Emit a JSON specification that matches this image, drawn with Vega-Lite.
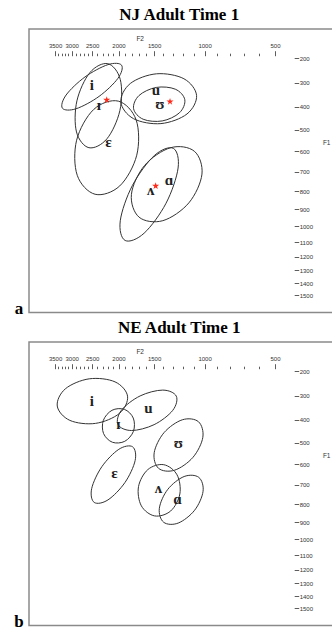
{
  "$schema": "https://vega.github.io/schema/vega-lite/v6.json",
  "padding": {"left": 12, "top": 5, "right": 0, "bottom": 0},
  "spacing": 0,
  "config": {
    "view": {"stroke": "#8a8a8a", "strokeWidth": 1.5},
    "axis": {"labelFont": "'Liberation Sans Narrow', 'Liberation Sans', sans-serif", "titleFont": "'Liberation Sans Narrow', 'Liberation Sans', sans-serif"},
    "title": {"font": "'Liberation Serif', serif", "fontSize": 17, "fontWeight": "bold", "color": "#000", "frame": "group", "baseline": "alphabetic", "offset": 5, "dx": -2}
  },
  "datasets": {
    "ell": [
      {"p":"a","v":"i","pt":0,"F2":1953,"F1":227.8},{"p":"a","v":"i","pt":1,"F2":2011,"F1":281.5},{"p":"a","v":"i","pt":2,"F2":2370,"F1":356.8},{"p":"a","v":"i","pt":3,"F2":2894,"F1":409.0},{"p":"a","v":"i","pt":4,"F2":3280,"F1":406.5},{"p":"a","v":"i","pt":5,"F2":3169,"F1":351.0},{"p":"a","v":"i","pt":6,"F2":2677,"F1":275.9},{"p":"a","v":"i","pt":7,"F2":2201,"F1":225.5},
      {"p":"a","v":"ɪ","pt":0,"F2":2202,"F1":221.6},{"p":"a","v":"ɪ","pt":1,"F2":1973,"F1":285.8},{"p":"a","v":"ɪ","pt":2,"F2":1979,"F1":416.8},{"p":"a","v":"ɪ","pt":3,"F2":2220,"F1":542.7},{"p":"a","v":"ɪ","pt":4,"F2":2580,"F1":583.8},{"p":"a","v":"ɪ","pt":5,"F2":2883,"F1":511.0},{"p":"a","v":"ɪ","pt":6,"F2":2873,"F1":375.5},{"p":"a","v":"ɪ","pt":7,"F2":2556,"F1":257.9},
      {"p":"a","v":"ɛ","pt":0,"F2":2003,"F1":376.6},{"p":"a","v":"ɛ","pt":1,"F2":1733,"F1":458.4},{"p":"a","v":"ɛ","pt":2,"F2":1726,"F1":619.4},{"p":"a","v":"ɛ","pt":3,"F2":1981,"F1":772.8},{"p":"a","v":"ɛ","pt":4,"F2":2445,"F1":817.0},{"p":"a","v":"ɛ","pt":5,"F2":2865,"F1":718.1},{"p":"a","v":"ɛ","pt":6,"F2":2880,"F1":549.1},{"p":"a","v":"ɛ","pt":7,"F2":2472,"F1":412.1},
      {"p":"a","v":"u","pt":0,"F2":1073,"F1":352.5},{"p":"a","v":"u","pt":1,"F2":1160,"F1":431.7},{"p":"a","v":"u","pt":2,"F2":1426,"F1":473.8},{"p":"a","v":"u","pt":3,"F2":1772,"F1":452.1},{"p":"a","v":"u","pt":4,"F2":1964,"F1":380.3},{"p":"a","v":"u","pt":5,"F2":1819,"F1":302.3},{"p":"a","v":"u","pt":6,"F2":1474,"F1":262.9},{"p":"a","v":"u","pt":7,"F2":1188,"F1":283.1},
      {"p":"a","v":"ʊ","pt":0,"F2":1180,"F1":370.5},{"p":"a","v":"ʊ","pt":1,"F2":1229,"F1":426.8},{"p":"a","v":"ʊ","pt":2,"F2":1412,"F1":462.2},{"p":"a","v":"ʊ","pt":3,"F2":1642,"F1":454.8},{"p":"a","v":"ʊ","pt":4,"F2":1770,"F1":408.8},{"p":"a","v":"ʊ","pt":5,"F2":1697,"F1":353.2},{"p":"a","v":"ʊ","pt":6,"F2":1477,"F1":319.1},{"p":"a","v":"ʊ","pt":7,"F2":1270,"F1":326.3},
      {"p":"a","v":"ʌ","pt":0,"F2":1291,"F1":586.7},{"p":"a","v":"ʌ","pt":1,"F2":1241,"F1":681.8},{"p":"a","v":"ʌ","pt":2,"F2":1370,"F1":866.7},{"p":"a","v":"ʌ","pt":3,"F2":1630,"F1":1044.7},{"p":"a","v":"ʌ","pt":4,"F2":1899,"F1":1089.9},{"p":"a","v":"ʌ","pt":5,"F2":1973,"F1":968.7},{"p":"a","v":"ʌ","pt":6,"F2":1789,"F1":771.1},{"p":"a","v":"ʌ","pt":7,"F2":1498,"F1":621.4},
      {"p":"a","v":"ɑ","pt":0,"F2":1093,"F1":600.3},{"p":"a","v":"ɑ","pt":1,"F2":1024,"F1":711.9},{"p":"a","v":"ɑ","pt":2,"F2":1143,"F1":864.7},{"p":"a","v":"ɑ","pt":3,"F2":1405,"F1":968.3},{"p":"a","v":"ɑ","pt":4,"F2":1696,"F1":947.3},{"p":"a","v":"ɑ","pt":5,"F2":1803,"F1":817.2},{"p":"a","v":"ɑ","pt":6,"F2":1625,"F1":669.7},{"p":"a","v":"ɑ","pt":7,"F2":1321,"F1":583.9},
      {"p":"b","v":"i","pt":0,"F2":1862,"F1":301.1},{"p":"b","v":"i","pt":1,"F2":1985,"F1":373.4},{"p":"b","v":"i","pt":2,"F2":2437,"F1":416.1},{"p":"b","v":"i","pt":3,"F2":3058,"F1":402.8},{"p":"b","v":"i","pt":4,"F2":3435,"F1":342.6},{"p":"b","v":"i","pt":5,"F2":3192,"F1":271.2},{"p":"b","v":"i","pt":6,"F2":2572,"F1":230.3},{"p":"b","v":"i","pt":7,"F2":2066,"F1":242.7},
      {"p":"b","v":"u","pt":0,"F2":1259,"F1":300.9},{"p":"b","v":"u","pt":1,"F2":1298,"F1":361.1},{"p":"b","v":"u","pt":2,"F2":1500,"F1":421.7},{"p":"b","v":"u","pt":3,"F2":1802,"F1":447.2},{"p":"b","v":"u","pt":4,"F2":2010,"F1":420.9},{"p":"b","v":"u","pt":5,"F2":1954,"F1":359.9},{"p":"b","v":"u","pt":6,"F2":1682,"F1":300.1},{"p":"b","v":"u","pt":7,"F2":1406,"F1":276.3},
      {"p":"b","v":"ɪ","pt":0,"F2":1910,"F1":356.5},{"p":"b","v":"ɪ","pt":1,"F2":1775,"F1":393.0},{"p":"b","v":"ɪ","pt":2,"F2":1772,"F1":450.5},{"p":"b","v":"ɪ","pt":3,"F2":1904,"F1":494.3},{"p":"b","v":"ɪ","pt":4,"F2":2116,"F1":498.5},{"p":"b","v":"ɪ","pt":5,"F2":2284,"F1":460.5},{"p":"b","v":"ɪ","pt":6,"F2":2288,"F1":402.8},{"p":"b","v":"ɪ","pt":7,"F2":2124,"F1":360.5},
      {"p":"b","v":"ʊ","pt":0,"F2":1056,"F1":408.7},{"p":"b","v":"ʊ","pt":1,"F2":1016,"F1":476.8},{"p":"b","v":"ʊ","pt":2,"F2":1106,"F1":568.4},{"p":"b","v":"ʊ","pt":3,"F2":1278,"F1":629.2},{"p":"b","v":"ʊ","pt":4,"F2":1452,"F1":619.9},{"p":"b","v":"ʊ","pt":5,"F2":1499,"F1":546.9},{"p":"b","v":"ʊ","pt":6,"F2":1392,"F1":456.5},{"p":"b","v":"ʊ","pt":7,"F2":1202,"F1":400.3},
      {"p":"b","v":"ɛ","pt":0,"F2":1785,"F1":519.4},{"p":"b","v":"ɛ","pt":1,"F2":1747,"F1":583.1},{"p":"b","v":"ɛ","pt":2,"F2":1902,"F1":689.1},{"p":"b","v":"ɛ","pt":3,"F2":2200,"F1":777.8},{"p":"b","v":"ɛ","pt":4,"F2":2462,"F1":790.8},{"p":"b","v":"ɛ","pt":5,"F2":2513,"F1":719.8},{"p":"b","v":"ɛ","pt":6,"F2":2316,"F1":611.9},{"p":"b","v":"ɛ","pt":7,"F2":1995,"F1":531.1},
      {"p":"b","v":"ʌ","pt":0,"F2":1395,"F1":602.4},{"p":"b","v":"ʌ","pt":1,"F2":1251,"F1":651.3},{"p":"b","v":"ʌ","pt":2,"F2":1225,"F1":747.2},{"p":"b","v":"ʌ","pt":3,"F2":1320,"F1":837.7},{"p":"b","v":"ʌ","pt":4,"F2":1494,"F1":865.1},{"p":"b","v":"ʌ","pt":5,"F2":1666,"F1":809.1},{"p":"b","v":"ʌ","pt":6,"F2":1703,"F1":709.5},{"p":"b","v":"ʌ","pt":7,"F2":1582,"F1":626.3},
      {"p":"b","v":"ɑ","pt":0,"F2":1053,"F1":663.8},{"p":"b","v":"ɑ","pt":1,"F2":1014,"F1":733.6},{"p":"b","v":"ɑ","pt":2,"F2":1091,"F1":833.7},{"p":"b","v":"ɑ","pt":3,"F2":1240,"F1":905.2},{"p":"b","v":"ɑ","pt":4,"F2":1396,"F1":900.4},{"p":"b","v":"ɑ","pt":5,"F2":1443,"F1":822.7},{"p":"b","v":"ɑ","pt":6,"F2":1351,"F1":723.4},{"p":"b","v":"ɑ","pt":7,"F2":1186,"F1":659.8}
    ],
    "lab": [
      {"p":"a","v":"i","F2":2512,"F1":318.9},{"p":"a","v":"ɪ","F2":2371,"F1":403},{"p":"a","v":"ɛ","F2":2192,"F1":566.7},{"p":"a","v":"u","F2":1479,"F1":339.9},{"p":"a","v":"ʊ","F2":1436,"F1":395.8},{"p":"a","v":"ʌ","F2":1544,"F1":802.8},{"p":"a","v":"ɑ","F2":1338,"F1":751},
      {"p":"b","v":"i","F2":2512,"F1":329.8},{"p":"b","v":"u","F2":1574,"F1":357.6},{"p":"b","v":"ɪ","F2":2002,"F1":428.8},{"p":"b","v":"ʊ","F2":1238,"F1":509.3},{"p":"b","v":"ɛ","F2":2078,"F1":650.5},{"p":"b","v":"ʌ","F2":1453,"F1":728.4},{"p":"b","v":"ɑ","F2":1245,"F1":781.5}
    ],
    "star": [
      {"p":"a","v":"ɪ","F2":2224,"F1":371.9},{"p":"a","v":"ʊ","F2":1327,"F1":379},{"p":"a","v":"ʌ","F2":1483,"F1":773.2}
    ]
  },
  "vconcat": [
    {
      "width": 304.5, "height": 283.4,
      "title": {"text": "NJ Adult Time 1"},
      "resolve": {"axis": {"x": "independent", "y": "independent"}},
      "layer": [
        {
          "data": {"name": "ell"},
          "transform": [{"filter": "datum.p == 'a'"}],
          "mark": {"type": "line", "interpolate": "cardinal-closed", "stroke": "#333", "strokeWidth": 1},
          "encoding": {
            "x": {"field": "F2", "type": "quantitative",
              "scale": {"domain": [4500,3500,3000,2500,2000,1750,1500,1250,1000,900,800,700,600,500,400,300,200], "range": [-0.7,26.1,42.7,63.2,89.5,105.9,125.1,148.1,175.6,187.9,201.0,215.2,230.2,246.0,262.7,280.1,298.0], "zero": false, "nice": false},
              "axis": {"orient": "top", "offset": -26.7, "values": [3500,3400,3300,3200,3100,3000,2900,2800,2700,2600,2500,2400,2300,2200,2100,2000,1900,1800,1700,1600,1500,1400,1300,1200,1100,1000,900,800,700,600,500],
                "domain": false, "grid": false, "tickColor": "#333", "tickWidth": 0.8,
                "tickSize": {"condition": {"test": "datum.value % 500 === 0", "value": 5}, "value": 2.5},
                "labelExpr": "datum.value % 500 === 0 ? format(datum.value, 'd') : ''", "labelFontSize": 6, "labelColor": "#333", "labelPadding": 2.5, "labelOverlap": false, "labelFlush": false, "labelBound": false,
                "title": "F2", "titleFontSize": 6.5, "titleFontWeight": "normal", "titleColor": "#333", "titleX": 110.7, "titleY": -17, "titleAlign": "center", "titleBaseline": "middle", "titleAnchor": null}},
            "y": {"field": "F1", "type": "quantitative",
              "scale": {"domain": [80,200,300,400,500,600,700,800,900,1000,1100,1200,1300,1400,1500,1700], "range": [-0.65,29.4,53.9,77.7,100.6,122.2,142.8,162.2,180.2,197.0,213.1,227.7,241.4,254.0,266.2,287.2], "zero": false, "nice": false},
              "axis": {"orient": "right", "offset": -39.3, "values": [200,300,400,500,600,700,800,900,1000,1100,1200,1300,1400,1500], "format": "d",
                "domain": false, "grid": false, "tickColor": "#333", "tickWidth": 0.8, "tickSize": 4.5,
                "labelFontSize": 6, "labelColor": "#333", "labelPadding": 0.5, "labelOverlap": false, "labelFlush": false, "labelBound": false,
                "title": "F1", "titleAngle": 0, "titleFontSize": 6.5, "titleFontWeight": "normal", "titleColor": "#333", "titleX": 32, "titleY": 113.7, "titleAlign": "center", "titleBaseline": "middle", "titleAnchor": null}},
            "detail": {"field": "v"},
            "order": {"field": "pt", "type": "quantitative"}
          }
        },
        {
          "data": {"name": "lab"},
          "transform": [{"filter": "datum.p == 'a'"}],
          "mark": {"type": "text", "font": "'Liberation Serif', 'DejaVu Serif', serif", "fontSize": 15, "fontWeight": "bold", "color": "#222", "align": "center", "baseline": "middle", "dy": -2},
          "encoding": {
            "x": {"field": "F2", "type": "quantitative",
              "axis": {"orient": "bottom", "domain": false, "ticks": false, "labels": false, "grid": false, "title": "a", "titleFont": "'Liberation Serif', serif", "titleFontSize": 17, "titleFontWeight": "bold", "titleColor": "#000", "titleX": -10.6, "titleY": 1, "titleAlign": "center", "titleBaseline": "alphabetic", "titleAnchor": null}},
            "y": {"field": "F1", "type": "quantitative", "axis": null},
            "text": {"field": "v"}
          }
        },
        {
          "data": {"name": "star"},
          "transform": [{"filter": "datum.p == 'a'"}],
          "mark": {"type": "point", "filled": true, "color": "#ff2a1a", "opacity": 1, "size": 55, "shape": "M0,-1L0.2245,-0.309L0.951,-0.309L0.363,0.118L0.588,0.809L0,0.382L-0.588,0.809L-0.363,0.118L-0.951,-0.309L-0.2245,-0.309Z"},
          "encoding": {
            "x": {"field": "F2", "type": "quantitative", "axis": null},
            "y": {"field": "F1", "type": "quantitative", "axis": null}
          }
        }
      ]
    },
    {
      "width": 304.5, "height": 283.4,
      "title": {"text": "NE Adult Time 1"},
      "resolve": {"axis": {"x": "independent", "y": "independent"}},
      "layer": [
        {
          "data": {"name": "ell"},
          "transform": [{"filter": "datum.p == 'b'"}],
          "mark": {"type": "line", "interpolate": "cardinal-closed", "stroke": "#333", "strokeWidth": 1},
          "encoding": {
            "x": {"field": "F2", "type": "quantitative",
              "scale": {"domain": [4500,3500,3000,2500,2000,1750,1500,1250,1000,900,800,700,600,500,400,300,200], "range": [-0.7,26.1,42.7,63.2,89.5,105.9,125.1,148.1,175.6,187.9,201.0,215.2,230.2,246.0,262.7,280.1,298.0], "zero": false, "nice": false},
              "axis": {"orient": "top", "offset": -26.7, "values": [3500,3400,3300,3200,3100,3000,2900,2800,2700,2600,2500,2400,2300,2200,2100,2000,1900,1800,1700,1600,1500,1400,1300,1200,1100,1000,900,800,700,600,500],
                "domain": false, "grid": false, "tickColor": "#333", "tickWidth": 0.8,
                "tickSize": {"condition": {"test": "datum.value % 500 === 0", "value": 5}, "value": 2.5},
                "labelExpr": "datum.value % 500 === 0 ? format(datum.value, 'd') : ''", "labelFontSize": 6, "labelColor": "#333", "labelPadding": 2.5, "labelOverlap": false, "labelFlush": false, "labelBound": false,
                "title": "F2", "titleFontSize": 6.5, "titleFontWeight": "normal", "titleColor": "#333", "titleX": 110.7, "titleY": -17, "titleAlign": "center", "titleBaseline": "middle", "titleAnchor": null}},
            "y": {"field": "F1", "type": "quantitative",
              "scale": {"domain": [80,200,300,400,500,600,700,800,900,1000,1100,1200,1300,1400,1500,1700], "range": [-0.65,29.4,53.9,77.7,100.6,122.2,142.8,162.2,180.2,197.0,213.1,227.7,241.4,254.0,266.2,287.2], "zero": false, "nice": false},
              "axis": {"orient": "right", "offset": -39.3, "values": [200,300,400,500,600,700,800,900,1000,1100,1200,1300,1400,1500], "format": "d",
                "domain": false, "grid": false, "tickColor": "#333", "tickWidth": 0.8, "tickSize": 4.5,
                "labelFontSize": 6, "labelColor": "#333", "labelPadding": 0.5, "labelOverlap": false, "labelFlush": false, "labelBound": false,
                "title": "F1", "titleAngle": 0, "titleFontSize": 6.5, "titleFontWeight": "normal", "titleColor": "#333", "titleX": 32, "titleY": 113.7, "titleAlign": "center", "titleBaseline": "middle", "titleAnchor": null}},
            "detail": {"field": "v"},
            "order": {"field": "pt", "type": "quantitative"}
          }
        },
        {
          "data": {"name": "lab"},
          "transform": [{"filter": "datum.p == 'b'"}],
          "mark": {"type": "text", "font": "'Liberation Serif', 'DejaVu Serif', serif", "fontSize": 15, "fontWeight": "bold", "color": "#222", "align": "center", "baseline": "middle", "dy": -2},
          "encoding": {
            "x": {"field": "F2", "type": "quantitative",
              "axis": {"orient": "bottom", "domain": false, "ticks": false, "labels": false, "grid": false, "title": "b", "titleFont": "'Liberation Serif', serif", "titleFontSize": 17, "titleFontWeight": "bold", "titleColor": "#000", "titleX": -10.6, "titleY": 1, "titleAlign": "center", "titleBaseline": "alphabetic", "titleAnchor": null}},
            "y": {"field": "F1", "type": "quantitative", "axis": null},
            "text": {"field": "v"}
          }
        }
      ]
    }
  ]
}
